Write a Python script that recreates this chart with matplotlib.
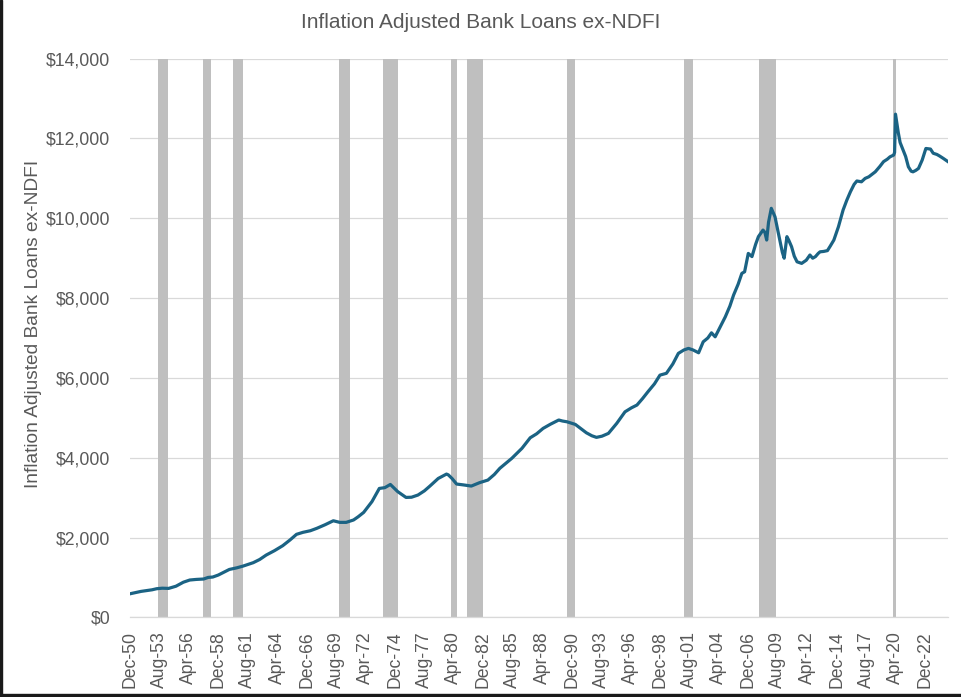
import matplotlib.pyplot as plt
import pandas as pd
from matplotlib.ticker import FuncFormatter

plt.rcParams['font.family'] = ['Liberation Sans', 'DejaVu Sans']

dates = [
    "1950-12", "1951-12", "1952-12", "1953-05", "1953-11", "1954-06", "1955-02", "1955-10",
    "1956-05", "1956-12", "1957-08", "1958-01", "1958-06", "1958-12", "1959-06", "1959-12",
    "1960-08", "1961-03", "1962-02", "1962-09", "1963-04", "1964-01", "1964-10", "1965-06",
    "1966-01", "1966-08", "1967-04", "1967-11", "1968-08", "1969-05", "1969-12", "1970-07",
    "1971-03", "1971-08", "1972-02", "1972-11", "1973-07", "1974-01", "1974-07", "1975-03",
    "1975-12", "1976-06", "1977-01", "1977-08", "1978-02", "1978-11", "1979-08", "1979-10",
    "1980-02", "1980-07", "1981-02", "1981-11", "1982-08", "1983-05", "1983-12", "1984-06",
    "1985-07", "1986-06", "1987-03", "1987-10", "1988-05", "1989-01", "1989-10", "1990-02",
    "1990-07", "1991-04", "1991-10", "1992-04", "1992-10", "1993-03", "1993-09", "1994-04",
    "1995-01", "1995-10", "1996-05", "1996-11", "1997-05", "1997-11", "1998-06", "1998-12",
    "1999-07", "2000-02", "2000-08", "2001-02", "2001-07", "2001-12", "2002-06", "2002-11",
    "2003-04", "2003-08", "2003-12", "2004-06", "2004-11", "2005-04", "2005-08", "2006-01",
    "2006-05", "2006-08", "2006-12", "2007-04", "2007-08", "2007-11", "2008-04", "2008-06",
    "2008-08", "2008-10", "2009-01", "2009-05", "2009-08", "2009-11", "2010-01", "2010-03",
    "2010-06", "2010-08", "2010-11", "2011-02", "2011-05", "2011-10", "2012-03", "2012-07",
    "2012-10", "2013-01", "2013-04", "2013-06", "2013-10", "2014-02", "2014-05", "2014-09",
    "2015-02", "2015-07", "2015-11", "2016-03", "2016-07", "2016-10", "2017-03", "2017-07",
    "2017-11", "2018-06", "2018-11", "2019-03", "2019-07", "2019-10", "2020-02", "2020-03",
    "2020-04", "2020-07", "2020-09", "2021-01", "2021-03", "2021-06", "2021-09", "2021-11",
    "2022-02", "2022-05", "2022-09", "2023-01", "2023-04", "2023-06", "2023-09", "2024-01",
    "2024-04", "2024-08", "2025-01",
]
loans = [
    590, 650, 690, 717, 730, 725, 780, 880,
    935, 950, 960, 1000, 1010, 1060, 1130, 1200,
    1240, 1285, 1370, 1450, 1560, 1670, 1795, 1940,
    2080, 2130, 2170, 2230, 2320, 2420, 2380, 2380,
    2440, 2520, 2630, 2900, 3230, 3250, 3330, 3150,
    3005, 3010, 3065, 3170, 3290, 3480, 3590, 3570,
    3480, 3340, 3320, 3290, 3375, 3440, 3580, 3735,
    3985, 4235, 4500, 4600, 4735, 4840, 4945, 4920,
    4900, 4835, 4730, 4625, 4550, 4510, 4540, 4610,
    4860, 5150, 5250, 5320, 5480, 5655, 5850, 6070,
    6115, 6350, 6615, 6700, 6740, 6700, 6630, 6905,
    7000, 7130, 7030, 7300, 7530, 7800, 8075, 8350,
    8620, 8660, 9120, 9040, 9350, 9540, 9705, 9650,
    9455, 9900, 10250, 10040, 9700, 9370, 9150, 9000,
    9540, 9450, 9290, 9050, 8910, 8870, 8950, 9080,
    9000, 9040, 9120, 9160, 9170, 9190, 9300, 9455,
    9790, 10205, 10450, 10665, 10850, 10935, 10915, 11000,
    11040, 11165, 11300, 11420, 11480, 11540, 11585, 11650,
    12610, 12150, 11900, 11670, 11550, 11290, 11180, 11165,
    11200, 11250, 11460, 11750, 11740, 11735, 11630, 11600,
    11560, 11500, 11420,
]

# NBER recessions (peak month, trough month)
recessions = [
    ("1953-07", "1954-05"), ("1957-08", "1958-04"), ("1960-04", "1961-02"),
    ("1969-12", "1970-11"), ("1973-11", "1975-03"), ("1980-01", "1980-07"),
    ("1981-07", "1982-11"), ("1990-07", "1991-03"), ("2001-03", "2001-11"),
    ("2007-12", "2009-06"), ("2020-02", "2020-04"),
]

tick_labels = [
    "Dec-50", "Aug-53", "Apr-56", "Dec-58", "Aug-61", "Apr-64", "Dec-66",
    "Aug-69", "Apr-72", "Dec-74", "Aug-77", "Apr-80", "Dec-82", "Aug-85",
    "Apr-88", "Dec-90", "Aug-93", "Apr-96", "Dec-98", "Aug-01", "Apr-04",
    "Dec-06", "Aug-09", "Apr-12", "Dec-14", "Aug-17", "Apr-20", "Dec-22",
]

start = pd.Period("1950-12", freq="M")


def month_index(d):
    return (pd.Period(d, freq="M") - start).n


x = [month_index(d) for d in dates]

text_color = "#595959"
grid_color = "#D9D9D9"

fig = plt.figure(figsize=(9.62, 6.97), dpi=100)
ax = fig.add_axes([0.1351, 0.1143, 0.8503, 0.8015])

for s, e in recessions:
    ax.axvspan(month_index(s) - 0.5, month_index(e) + 0.5, color="#BFBFBF", lw=0, zorder=1)

ax.plot(x, loans, color="#1B6384", lw=2.3, zorder=3)

ax.set_xlim(0, x[-1])
ax.set_ylim(0, 14000)
ax.set_yticks(range(0, 14001, 2000))
ax.yaxis.set_major_formatter(FuncFormatter(lambda v, p: f"${v:,.0f}"))
ax.set_xticks([i * 32 for i in range(len(tick_labels))])
ax.set_xticklabels(tick_labels, rotation=90)

ax.grid(axis="y", color=grid_color, lw=0.9, zorder=0)
ax.set_axisbelow(True)
for side in ["top", "right", "left"]:
    ax.spines[side].set_visible(False)
ax.spines["bottom"].set_color(grid_color)
ax.spines["bottom"].set_linewidth(0.9)
ax.tick_params(axis="both", length=0, labelsize=12.7, labelcolor=text_color)
ax.tick_params(axis="y", pad=14)
ax.tick_params(axis="x", pad=10)

ax.set_ylabel("Inflation Adjusted Bank Loans ex-NDFI", fontsize=13.8, color=text_color)
ax.yaxis.set_label_coords(-0.1076, 0.526)
fig.text(0.5, 0.968, "Inflation Adjusted Bank Loans ex-NDFI", ha="center", va="center",
         fontsize=15, color=text_color)

# dark screenshot frame on the left and bottom edges
fig.patches.append(plt.Rectangle((0, 0), 0.0025, 1, transform=fig.transFigure, color="#1a1a1a"))
fig.patches.append(plt.Rectangle((0, 0), 1, 0.004, transform=fig.transFigure, color="#1a1a1a"))

fig.savefig("out.png", dpi=100)
